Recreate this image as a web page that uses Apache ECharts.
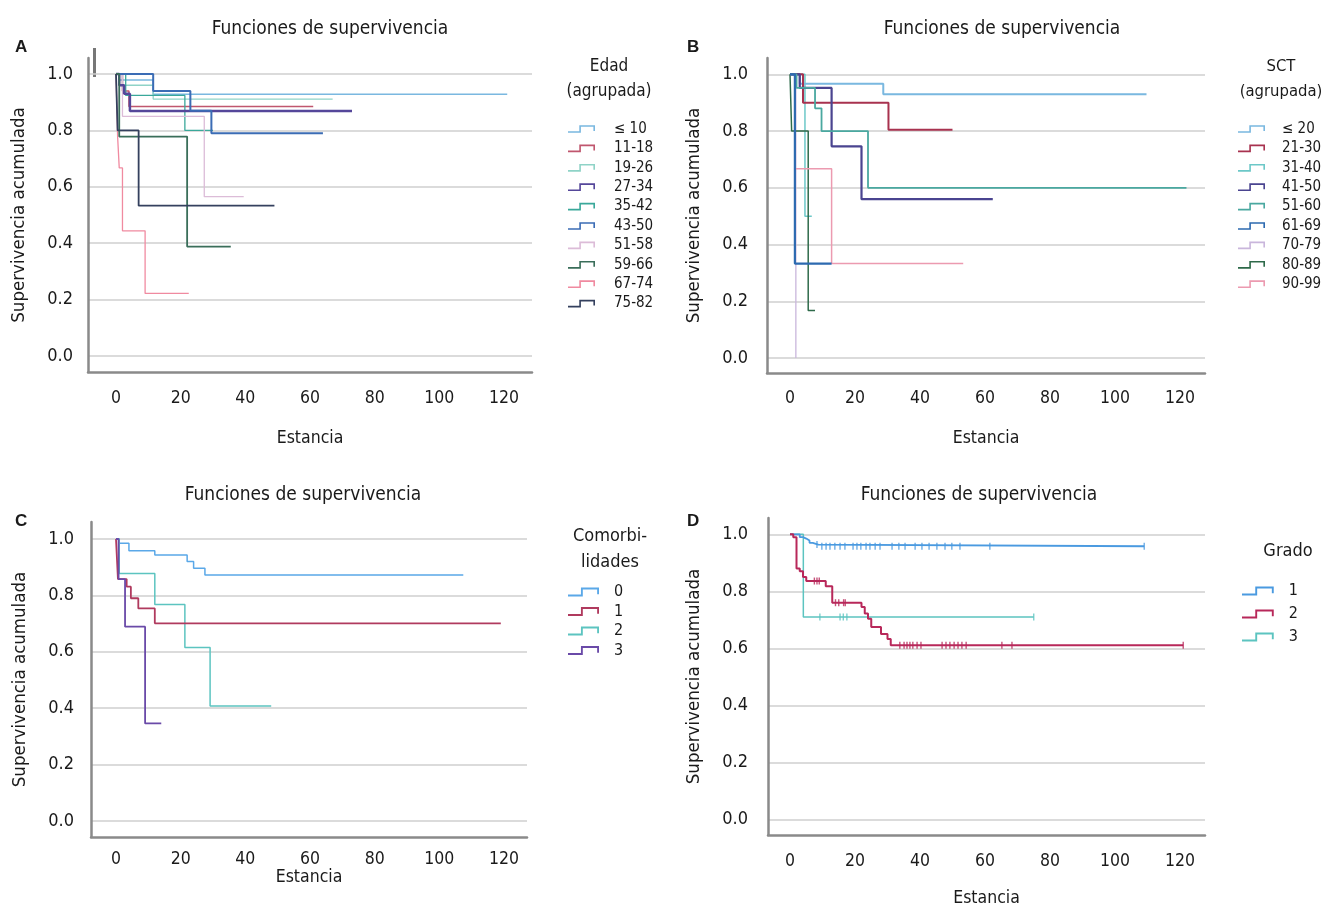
<!DOCTYPE html>
<html><head><meta charset="utf-8">
<script src="https://cdn.jsdelivr.net/npm/echarts@6/dist/echarts.min.js"></script>
<style>html,body{margin:0;padding:0;background:#fff}#c{width:1323px;height:910px}</style>
</head><body><div id="c"></div>
<script>
// ---------- DATA ----------
const xTicks = [0, 20, 40, 60, 80, 100, 120];
const yTicks = [0, 0.2, 0.4, 0.6, 0.8, 1.0];
const panelTitle = 'Funciones de supervivencia';
const xName = 'Estancia';
const yName = 'Supervivencia acumulada';

// Panel A: Edad (agrupada)  [time, survival]
const A_labels = ['≤ 10', '11-18', '19-26', '27-34', '35-42', '43-50', '51-58', '59-66', '67-74', '75-82'];
const A_le10  = [[0,1],[1,0.979],[11.5,0.928],[121,0.928]];
const A_11_18 = [[0,1],[2,0.94],[4,0.885],[61,0.885]];
const A_19_26 = [[0,1],[2,0.96],[11.5,0.911],[67,0.911]];
const A_27_34 = [[0,1],[1,0.96],[2.5,0.93],[4.3,0.869],[73,0.869]];
const A_35_42 = [[0,1],[3,0.924],[21.3,0.8],[30,0.8]];
const A_43_50 = [[0,1],[11.5,0.94],[23,0.87],[29.5,0.79],[64,0.79]];
const A_51_58 = [[0,1],[2,0.85],[27.3,0.565],[39.5,0.565]];
const A_59_66 = [[0,1],[1,0.778],[22,0.388],[35.5,0.388]];
const A_67_74 = [[0,1],[0.5,0.778],[1,0.667],[2,0.444],[9,0.222],[22.5,0.222]];
const A_75_82 = [[0,1],[0.5,0.8],[7,0.533],[49,0.533]];

// Panel B: SCT (agrupada)
const B_labels = ['≤ 20', '21-30', '31-40', '41-50', '51-60', '61-69', '70-79', '80-89', '90-99'];
const B_le20  = [[0,1],[3,0.967],[28.7,0.93],[109.7,0.93]];
const B_21_30 = [[0,1],[4,0.9],[30.3,0.805],[50,0.805]];
const B_31_40 = [[0,1],[4.6,0.5],[6.7,0.5]];
const B_41_50 = [[0,1],[3,0.952],[12.8,0.746],[22,0.56],[62.4,0.56]];
const B_51_60 = [[0,1],[2,0.952],[7.7,0.88],[9.7,0.8],[24,0.6],[122,0.6]];
const B_61_69 = [[0,1],[1.5,0.333],[12.8,0.333]];
const B_70_79 = [[0,1],[1.8,0]];
const B_80_89 = [[0,1],[0.5,0.8],[5.6,0.167],[7.7,0.167]];
const B_90_99 = [[0,1],[1.5,0.667],[12.8,0.333],[53.3,0.333]];

// Panel C: Comorbilidades
const C_labels = ['0', '1', '2', '3'];
const C_0 = [[0,1],[1,0.985],[4,0.958],[12,0.943],[22,0.92],[24,0.896],[27.5,0.872],[107.4,0.872]];
const C_1 = [[0,1],[0.6,0.858],[3.3,0.831],[4.6,0.79],[6.9,0.754],[12,0.701],[119,0.701]];
const C_2 = [[0,1],[1,0.878],[12,0.768],[21.3,0.615],[29.1,0.408],[48,0.408]];
const C_3 = [[0,1],[0.8,0.858],[2.8,0.689],[9,0.346],[14,0.346]];

// Panel D: Grado
const D_labels = ['1', '2', '3'];
const D_1 = [[0,1],[3,0.99],[4,0.985],[5,0.978],[6,0.97],[7,0.964],[8.7,0.958],[109,0.958]];
const D_2 = [[0,1],[1,0.99],[2,0.88],[3,0.87],[4,0.85],[5,0.836],[11,0.818],[13,0.76],[22,0.745],[23,0.722],[24,0.704],[25,0.675],[28,0.65],[30,0.633],[31,0.611],[121,0.611]];
const D_3 = [[0,1],[4.1,0.71],[75,0.71]];
const D_1_cens = [8.3,9.8,11.1,12.3,13.8,15.4,16.9,19.4,20.6,21.8,23.4,24.6,26.2,27.7,31.4,33.5,35.4,38.5,40.6,42.8,45.2,47.7,49.8,52.3,61.5,109];
const D_2_cens = [7.5,8.3,9,14,15,16.5,17,33.8,35.1,36,36.9,37.8,39.1,40.3,46.8,48,49.2,50.5,51.7,52.9,54.2,65.2,68.3,121];
const D_3_cens = [9.2,15.4,16.4,17.5,75];

// ---------- STYLE / LAYOUT ----------
const FONT = "'Liberation Sans Narrow','DejaVu Sans Condensed','Arial Narrow',sans-serif";
const TXT = '#1a1a1a';
const A_colors = ['#7ab8e0','#c0566e','#8fd3c7','#55479a','#3aa89a','#3b6cb5','#dcbcd8','#3a6e5a','#f08aa0','#34405e'];
const A_widths = [1.5,1.5,1.3,2.5,1.3,2,1.3,1.8,1.3,1.8];
const B_colors = ['#7ab8e0','#a8324f','#6cc8c8','#4a4490','#4aa8a0','#2d6ab0','#c9b6dc','#2e6a4a','#ec9ab0'];
const B_widths = [2,2,1.5,2.2,1.8,2.2,1.3,1.5,1.5];
const C_colors = ['#5aa8e8','#b03a5e','#5cc4c0','#6a4aa8'];
const D_colors = ['#4a9ae0','#b8285a','#5cc4c0'];

const panels = [
  { id:'A', grid:{left:88, top:58, width:444, height:314}, x:[-8.66,128.66], y:[-0.0567,1.0567],
    labels:A_labels, data:[A_le10,A_11_18,A_19_26,A_27_34,A_35_42,A_43_50,A_51_58,A_59_66,A_67_74,A_75_82],
    colors:A_colors, widths:A_widths, yLabelMargin:15, yNameGap:59, xLabelMargin:17, xNameGap:57 },
  { id:'B', grid:{left:767, top:58, width:438, height:315}, x:[-7.08,127.7], y:[-0.0529,1.0575],
    labels:B_labels, data:[B_le20,B_21_30,B_31_40,B_41_50,B_51_60,B_61_69,B_70_79,B_80_89,B_90_99],
    colors:B_colors, widths:B_widths, yLabelMargin:19, yNameGap:63, xLabelMargin:16, xNameGap:56 },
  { id:'C', grid:{left:91, top:522, width:436, height:315}, x:[-7.73,127.1], y:[-0.0567,1.0603],
    labels:C_labels, data:[C_0,C_1,C_2,C_3],
    colors:C_colors, widths:[1.5,1.8,1.5,1.8], yLabelMargin:17, yNameGap:61, xLabelMargin:13, xNameGap:26 },
  { id:'D', grid:{left:768, top:518, width:437, height:317}, x:[-6.77,127.7], y:[-0.0551,1.0572],
    labels:D_labels, data:[D_1,D_2,D_3], cens:[D_1_cens,D_2_cens,D_3_cens],
    colors:D_colors, widths:[1.8,2,1.5], yLabelMargin:20, yNameGap:64, xLabelMargin:17, xNameGap:54 }
];

function survAt(steps, t) {
  let v = steps[0][1];
  for (const p of steps) { if (p[0] <= t) v = p[1]; }
  return v;
}

const stepIcon = 'path://M0,6.2 L11.2,6.2 L11.2,0.2 L26.8,0.2 L26.8,6 L25.2,6 L25.2,1.8 L12.8,1.8 L12.8,7.8 L0,7.8 Z';

const grids = [], xAxes = [], yAxes = [], series = [], legends = [];
panels.forEach((p, i) => {
  grids.push(p.grid);
  xAxes.push({
    type:'value', gridIndex:i, min:p.x[0], max:p.x[1],
    name:xName, nameLocation:'middle', nameGap:p.xNameGap,
    nameTextStyle:{fontFamily:FONT, fontSize:17.5, color:TXT},
    axisLine:{show:true, onZero:false, lineStyle:{color:'#8a8a8a', width:2.5}},
    axisTick:{show:false, customValues:xTicks},
    axisLabel:{customValues:xTicks, margin:p.xLabelMargin, fontFamily:FONT, fontSize:17.5, color:TXT},
    splitLine:{show:false}
  });
  yAxes.push({
    type:'value', gridIndex:i, min:p.y[0], max:p.y[1],
    name:yName, nameLocation:'middle', nameGap:p.yNameGap, nameRotate:90,
    nameTextStyle:{fontFamily:FONT, fontSize:18.5, color:TXT},
    axisLine:{show:true, onZero:false, lineStyle:{color:'#8a8a8a', width:2.5}},
    axisTick:{show:false, customValues:yTicks},
    axisLabel:{customValues:yTicks, margin:p.yLabelMargin, fontFamily:FONT, fontSize:18, color:TXT,
               formatter:v => v.toFixed(1)},
    splitLine:{show:true, lineStyle:{color:'#cfcfcf', width:1.5}}
  });
  p.data.forEach((d, k) => {
    series.push({
      name:p.id + '|' + p.labels[k], type:'line', step:'end', xAxisIndex:i, yAxisIndex:i,
      data:d, symbol:'none', showSymbol:false, animation:false, silent:true,
      lineStyle:{color:p.colors[k], width:p.widths[k]}, itemStyle:{color:p.colors[k]},
      emphasis:{disabled:true}, z:3 + (p.widths[k] > 1.7 ? 1 : 0)
    });
    if (p.cens) {
      series.push({
        name:p.id + '_cens_' + k, type:'scatter', xAxisIndex:i, yAxisIndex:i,
        data:p.cens[k].map(t => [t, survAt(d, t)]),
        symbol:'rect', symbolSize:[1.4, 7], animation:false, silent:true,
        itemStyle:{color:p.colors[k]}, z:5
      });
    }
  });
});

const legendBase = {
  orient:'vertical', icon:stepIcon, selectedMode:false,
  itemStyle:{borderWidth:0},
  formatter:n => n.split('|')[1]
};
legends.push(Object.assign({}, legendBase, {
  left:563, top:116, itemWidth:27, itemHeight:8, itemGap:3.4,
  textStyle:{fontFamily:FONT, fontSize:15, color:TXT, lineHeight:16, padding:[0,0,0,14]},
  data:A_labels.map(l => 'A|' + l)
}));
legends.push(Object.assign({}, legendBase, {
  left:1233, top:116, itemWidth:27, itemHeight:8, itemGap:3.4,
  textStyle:{fontFamily:FONT, fontSize:15, color:TXT, lineHeight:16, padding:[0,0,0,12]},
  data:B_labels.map(l => 'B|' + l)
}));
legends.push(Object.assign({}, legendBase, {
  left:563, top:579, itemWidth:31, itemHeight:9, itemGap:3.5,
  textStyle:{fontFamily:FONT, fontSize:16, color:TXT, lineHeight:16, padding:[0,0,0,10]},
  data:C_labels.map(l => 'C|' + l)
}));
legends.push(Object.assign({}, legendBase, {
  left:1237, top:578, itemWidth:36, itemHeight:9, itemGap:7,
  textStyle:{fontFamily:FONT, fontSize:16, color:TXT, lineHeight:16, padding:[0,0,0,8]},
  data:D_labels.map(l => 'D|' + l)
}));

const tStyle = {fontFamily:FONT, fontSize:19, fontWeight:'normal', color:TXT};
const letterStyle = {fontFamily:"'Liberation Sans','DejaVu Sans',sans-serif", fontSize:17, fontWeight:'bold', color:TXT};
const titles = [
  {text:panelTitle, left:325, top:15, textAlign:'center', textStyle:tStyle},
  {text:panelTitle, left:997, top:15, textAlign:'center', textStyle:tStyle},
  {text:panelTitle, left:298, top:481, textAlign:'center', textStyle:tStyle},
  {text:panelTitle, left:974, top:481, textAlign:'center', textStyle:tStyle},
  {text:'A', left:10, top:34, textStyle:letterStyle},
  {text:'B', left:682, top:34, textStyle:letterStyle},
  {text:'C', left:10, top:508, textStyle:letterStyle},
  {text:'D', left:682, top:508, textStyle:letterStyle},
  {text:'Edad\n(agrupada)', left:604, top:49, textAlign:'center', textStyle:Object.assign({}, tStyle, {fontSize:17, lineHeight:25})},
  {text:'SCT\n(agrupada)', left:1276, top:49, textAlign:'center', textStyle:Object.assign({}, tStyle, {fontSize:16.5, lineHeight:25})},
  {text:'Comorbi-\nlidades', left:605, top:518, textAlign:'center', textStyle:Object.assign({}, tStyle, {fontSize:18, lineHeight:26})},
  {text:'Grado', left:1283, top:537, textAlign:'center', textStyle:Object.assign({}, tStyle, {fontSize:18})}
];

const chart = echarts.init(document.getElementById('c'), null, {renderer:'canvas'});
chart.setOption({
  backgroundColor:'#ffffff',
  animation:false,
  title:titles,
  grid:grids, xAxis:xAxes, yAxis:yAxes, series:series, legend:legends,
  graphic:[{type:'rect', shape:{x:93, y:48, width:3, height:29}, style:{fill:'#777'}, silent:true}]
});
</script></body></html>
